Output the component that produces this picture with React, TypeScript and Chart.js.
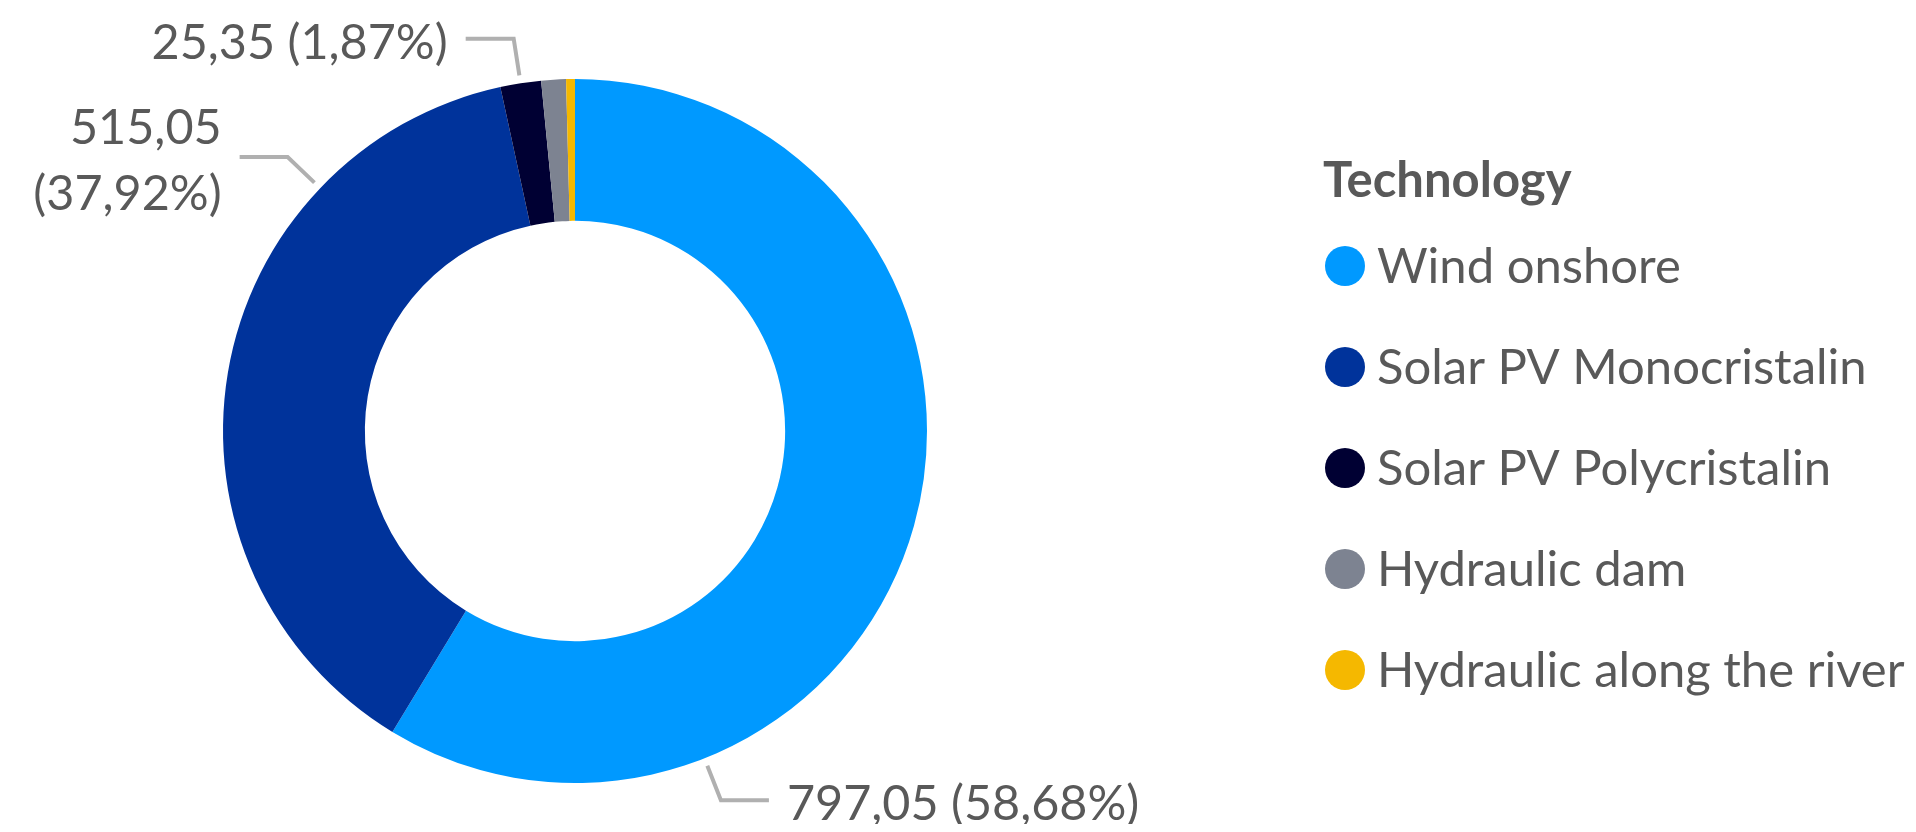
import React, { useEffect, useRef } from "react";
import { Chart, registerables } from "chart.js";

Chart.register(...registerables);

const categories = [
  "Wind onshore",
  "Solar PV Monocristalin",
  "Solar PV Polycristalin",
  "Hydraulic dam",
  "Hydraulic along the river",
];
const capacityValues = [797.05, 515.05, 25.35, 15.35, 5.5];
const sliceColors = ["#0099ff", "#00339b", "#000033", "#7d8391", "#f5b800"];
const legendTitle = "Technology";

const TEXT_COLOR = "#595959";
const FONT = "Lato, 'Open Sans', sans-serif";

const fmt = (v: number) => v.toFixed(2).replace(".", ",");

const leaderLabels = {
  id: "leaderLabels",
  afterDatasetsDraw(chart: any, _args: any, opts: any) {
    const ctx = chart.ctx as CanvasRenderingContext2D;
    const meta = chart.getDatasetMeta(0);
    const data = chart.data.datasets[0].data as number[];
    const total = data.reduce((a, b) => a + b, 0);
    ctx.save();
    meta.data.forEach((arc: any, i: number) => {
      const pct = (data[i] / total) * 100;
      if (pct < opts.minPct) return;
      const p = arc.getProps(["x", "y", "startAngle", "endAngle", "outerRadius"], true);
      const f = opts.anchor[i] ?? 0.5;
      const a = p.startAngle + (p.endAngle - p.startAngle) * f;
      const c = Math.cos(a), s = Math.sin(a);
      const x1 = p.x + c * (p.outerRadius + opts.gap1);
      const y1 = p.y + s * (p.outerRadius + opts.gap1);
      const x2 = p.x + c * (p.outerRadius + opts.gap2);
      const y2 = p.y + s * (p.outerRadius + opts.gap2);
      const right = c >= 0;
      const x3 = x2 + (right ? opts.tail : -opts.tail);
      ctx.strokeStyle = opts.lineColor;
      ctx.lineWidth = opts.lineWidth;
      ctx.lineJoin = "miter";
      ctx.beginPath();
      ctx.moveTo(x1, y1);
      ctx.lineTo(x2, y2);
      ctx.lineTo(x3, y2);
      ctx.stroke();

      ctx.font = `${opts.fontSize}px ${FONT}`;
      ctx.fillStyle = TEXT_COLOR;
      ctx.textBaseline = "alphabetic";
      const full = `${fmt(data[i])} (${fmt(pct)}%)`;
      const tx = right ? x3 + opts.textGap : x3 - opts.textGap;
      let lines = [full];
      if (!right && tx - ctx.measureText(full).width < 0) {
        lines = [fmt(data[i]), `(${fmt(pct)}%)`];
      }
      if (right && tx + ctx.measureText(full).width > chart.width) {
        lines = [fmt(data[i]), `(${fmt(pct)}%)`];
      }
      ctx.textAlign = right ? "left" : "right";
      const lh = opts.lineHeight;
      const blockCenter = y2 + opts.textShift;
      const firstCenter = blockCenter - ((lines.length - 1) * lh) / 2;
      lines.forEach((t, k) => {
        ctx.fillText(t, tx, firstCenter + k * lh + opts.capHalf);
      });
    });
    ctx.restore();
  },
};

const sideLegend = {
  id: "sideLegend",
  afterDraw(chart: any, _args: any, opts: any) {
    const ctx = chart.ctx as CanvasRenderingContext2D;
    const ds = chart.data.datasets[0];
    ctx.save();
    ctx.fillStyle = TEXT_COLOR;
    ctx.textAlign = "left";
    ctx.textBaseline = "alphabetic";
    ctx.font = `bold ${opts.titleSize}px ${FONT}`;
    ctx.fillText(opts.title, opts.x, opts.titleBaseline);
    ctx.font = `${opts.fontSize}px ${FONT}`;
    (chart.data.labels as string[]).forEach((lab, i) => {
      const cy = opts.firstRow + i * opts.step;
      ctx.fillStyle = ds.backgroundColor[i];
      ctx.beginPath();
      ctx.arc(opts.x + opts.dotR + 2, cy, opts.dotR, 0, Math.PI * 2);
      ctx.fill();
      ctx.fillStyle = TEXT_COLOR;
      ctx.fillText(lab, opts.textX, cy + opts.baselineShift);
    });
    ctx.restore();
  },
};

export default function App() {
  const ref = useRef<HTMLCanvasElement>(null);
  useEffect(() => {
    if (!ref.current) return;
    const chart = new Chart(ref.current, {
      type: "doughnut",
      data: {
        labels: categories,
        datasets: [
          {
            data: capacityValues,
            backgroundColor: sliceColors,
            borderWidth: 0,
          },
        ],
      },
      options: {
        responsive: false,
        animation: false,
        cutout: "59.7%",
        layout: { padding: { top: 71, bottom: 41, left: 215, right: 981 } },
        plugins: {
          legend: { display: false },
          tooltip: { enabled: false },
          leaderLabels: {
            minPct: 1.5,
            anchor: [0.75, 0.75, 0.5],
            gap1: 8,
            gap2: 45,
            tail: 48,
            textGap: 18,
            lineColor: "#b0b0b0",
            lineWidth: 4,
            fontSize: 48.5,
            lineHeight: 66,
            textShift: 3,
            capHalf: 17,
          },
          sideLegend: {
            title: legendTitle,
            x: 1315,
            titleBaseline: 189,
            titleSize: 49,
            fontSize: 49,
            firstRow: 258,
            step: 101,
            dotR: 20,
            textX: 1369,
            baselineShift: 17,
          },
        } as any,
      },
      plugins: [leaderLabels, sideLegend],
    });
    return () => chart.destroy();
  }, []);
  return (
    <div style={{ width: 1900, height: 816 }}>
      <canvas ref={ref} width={1900} height={816} style={{ display: "block" }} />
    </div>
  );
}
